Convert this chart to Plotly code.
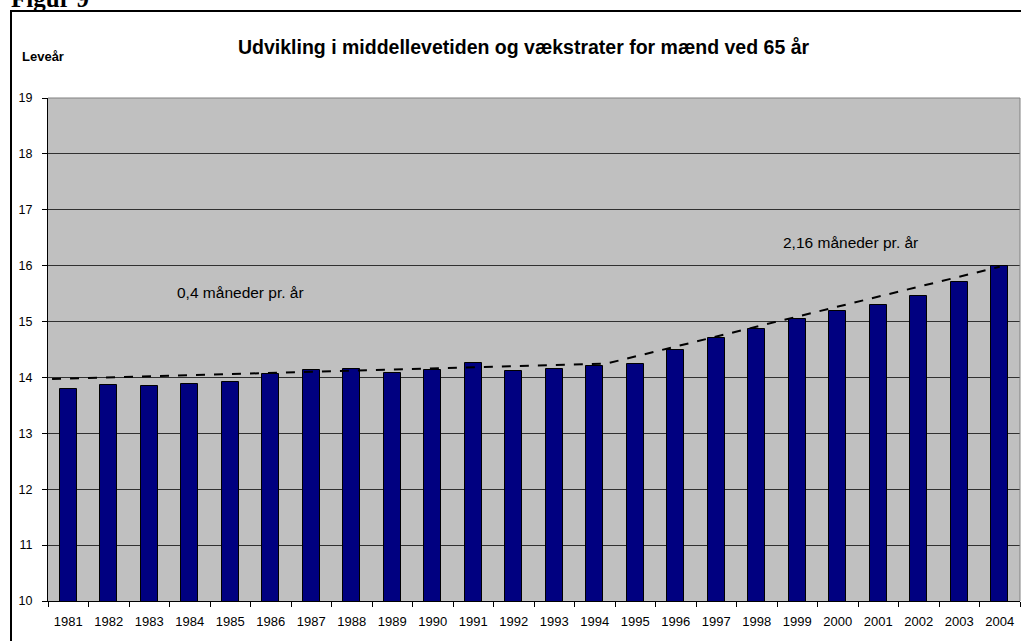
import plotly.graph_objects as go

# ---- data ----
years = list(range(1981, 2005))
life_exp = [13.79, 13.87, 13.85, 13.88, 13.92, 14.07, 14.13, 14.15, 14.08, 14.13,
            14.26, 14.12, 14.15, 14.21, 14.24, 14.49, 14.71, 14.87, 15.04, 15.19,
            15.29, 15.45, 15.70, 15.99]
trend_x = [1980.6, 1994.3, 2004]
trend_y = [13.97, 14.25, 15.98]
y_ticks = list(range(10, 20))
title = "Udvikling i middellevetiden og vækstrater for mænd ved 65 år"
y_label = "Leveår"
note1 = "0,4 måneder pr. år"
note2 = "2,16 måneder pr. år"

W, H = 1021, 641
ML, MR, MT, MB = 48, 1, 98, 40
PH = H - MT - MB
PW = W - ML - MR

def py(pix):
    # pixel row -> paper y
    return (H - MB - pix) / PH

def px(pix):
    return (pix - ML) / PW

fig = go.Figure()
fig.add_trace(go.Bar(
    x=years, y=life_exp, width=0.42,
    marker=dict(color="#000080", line=dict(color="black", width=1)),
    showlegend=False,
))
fig.add_trace(go.Scatter(
    x=trend_x, y=trend_y, mode="lines",
    line=dict(color="black", width=2, dash="dash"),
    showlegend=False,
))

font = "Liberation Sans, Arial, sans-serif"
fig.update_layout(
    width=W, height=H,
    margin=dict(l=ML, r=MR, t=MT, b=MB),
    paper_bgcolor="white",
    plot_bgcolor="#C0C0C0",
    font=dict(family=font, color="black", size=12),
    bargap=0,
    xaxis=dict(
        range=[1980.5, 2004.5],
        tickvals=years, ticktext=[str(y) for y in years],
        ticks="", showgrid=False, zeroline=False,
        showline=True, linecolor="black", linewidth=1,
        tickfont=dict(size=13, family=font, color="black"),
        ticklabelstandoff=8,
        minor=dict(tick0=1980.5, dtick=1, ticks="outside", ticklen=5,
                   tickcolor="black", tickwidth=1, showgrid=False),
    ),
    yaxis=dict(
        range=[10, 19], tickvals=y_ticks,
        ticks="outside", ticklen=5, tickcolor="black", tickwidth=1,
        showgrid=True, gridcolor="#303030", gridwidth=1,
        zeroline=False, showline=True, linecolor="black", linewidth=1,
        tickfont=dict(size=12.5, family=font, color="black"),
        ticklabelstandoff=7,
    ),
    shapes=[
        # plot area top/right border
        dict(type="line", xref="paper", yref="paper", x0=0, x1=1, y0=1, y1=1,
             line=dict(color="#808080", width=1), layer="above"),
        dict(type="line", xref="paper", yref="paper", x0=1, x1=1, y0=0, y1=1,
             line=dict(color="#808080", width=1), layer="above"),
        # outer chart frame
        dict(type="rect", xref="paper", yref="paper",
             x0=px(11), x1=px(1040), y0=py(660), y1=py(11),
             line=dict(color="black", width=2), fillcolor="rgba(0,0,0,0)", layer="above"),
    ],
    annotations=[
        dict(text="<b>" + title + "</b>", xref="paper", yref="paper",
             x=px(523), y=py(47), xanchor="center", yanchor="middle",
             showarrow=False, font=dict(size=19.5, family=font, color="black")),
        dict(text="<b>" + y_label + "</b>", xref="paper", yref="paper",
             x=px(20), y=py(57), xanchor="left", yanchor="middle",
             showarrow=False, font=dict(size=13, family=font, color="black")),
        dict(text=note1, xref="paper", yref="paper",
             x=px(240), y=py(292), xanchor="center", yanchor="middle",
             showarrow=False, font=dict(size=15.5, family=font, color="black")),
        dict(text=note2, xref="paper", yref="paper",
             x=px(850), y=py(242), xanchor="center", yanchor="middle",
             showarrow=False, font=dict(size=15.5, family=font, color="black")),
        dict(text="<b>Figur 9</b>", xref="paper", yref="paper",
             x=px(9), y=py(14), xanchor="left", yanchor="bottom",
             showarrow=False,
             font=dict(size=25, family="Liberation Serif, Times New Roman, serif", color="black")),
    ],
)

fig.write_html("out.html",
               config={"displayModeBar": False},
               post_script="document.body.style.margin='0';document.body.style.padding='0';")
